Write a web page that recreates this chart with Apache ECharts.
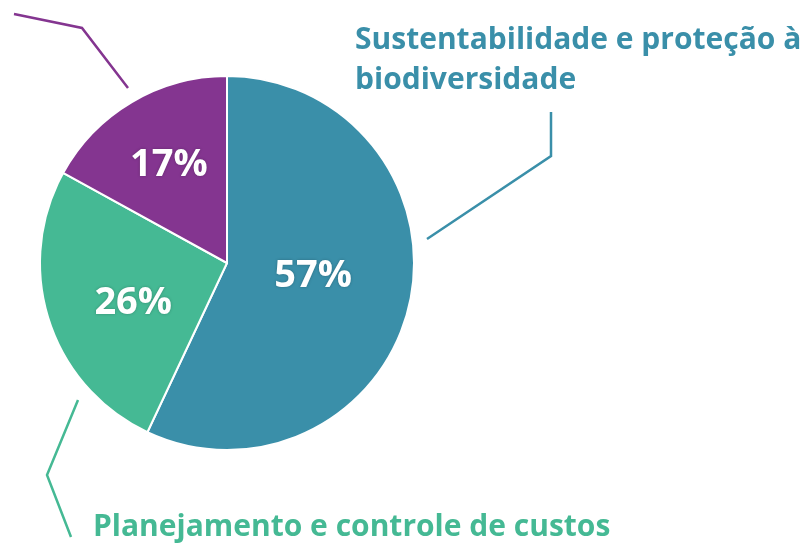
<!DOCTYPE html>
<html>
<head>
<meta charset="utf-8">
<script src="https://cdn.jsdelivr.net/npm/echarts@6/dist/echarts.min.js"></script>
<style>
    html, body { margin: 0; padding: 0; background: #fff; }
    #main { width: 807px; height: 545px; }
</style>
</head>
<body>
<div id="main"></div>
<script>
// datos del gráfico
var categorias = ['Sustentabilidade e proteção à\nbiodiversidade', 'Planejamento e controle de custos', ''];
var valores = [57, 26, 17];
var colores = ['#3a8fa9', '#45b994', '#843590'];

// posiciones de las etiquetas externas y sus líneas (por índice)
var etiquetasExt = [
    { x: 355, y: 20, align: 'left', verticalAlign: 'top', linea: [[427, 239], [551, 156], [551, 112]] },
    { x: 93, y: 527, align: 'left', verticalAlign: 'middle', linea: [[78, 400], [47, 475], [71, 537]] },
    { x: 14, y: -30, align: 'left', verticalAlign: 'middle', linea: [[128, 88], [82, 28], [14, 14]] }
];
// ajuste de las etiquetas internas
var ajusteInt = [[-8, -8], [-2, 10], [-9, -15]];

var datos = [];
for (var i = 0; i < valores.length; i++) {
    datos.push({ name: categorias[i], value: valores[i], itemStyle: { color: colores[i] } });
}

var myChart = echarts.init(document.getElementById('main'), null, { renderer: 'canvas' });

var option = {
    animation: false,
    series: [
        {
            type: 'pie',
            center: [227, 263],
            radius: 187,
            startAngle: 90,
            clockwise: true,
            silent: true,
            data: datos,
            itemStyle: { borderColor: '#fff', borderWidth: 2 },
            label: {
                show: true,
                position: 'inside',
                formatter: '{c}%',
                color: '#fff',
                fontFamily: 'Open Sans',
                fontWeight: 'bold',
                fontSize: 38,
                textShadowColor: 'rgba(0,0,0,0.25)',
                textShadowBlur: 3
            },
            labelLayout: function (p) {
                var a = ajusteInt[p.dataIndex];
                return { dx: a[0], dy: a[1] };
            }
        },
        {
            type: 'pie',
            center: [227, 263],
            radius: 187,
            startAngle: 90,
            clockwise: true,
            silent: true,
            avoidLabelOverlap: false,
            data: datos.map(function (d, i) {
                return {
                    name: d.name,
                    value: d.value,
                    itemStyle: { color: 'rgba(0,0,0,0)' },
                    label: { color: colores[i] },
                    labelLine: { lineStyle: { color: colores[i] } }
                };
            }),
            label: {
                show: true,
                position: 'outside',
                formatter: function (p) { return p.name === '' ? ' ' : p.name; },
                fontFamily: 'Open Sans',
                fontWeight: 'bold',
                fontSize: 30,
                lineHeight: 40,
                overflow: 'none',
                width: 600
            },
            labelLine: {
                show: true,
                lineStyle: { width: 2.5 }
            },
            labelLayout: function (p) {
                var e = etiquetasExt[p.dataIndex];
                return {
                    x: e.x,
                    y: e.y,
                    align: e.align,
                    verticalAlign: e.verticalAlign,
                    hideOverlap: false,
                    labelLinePoints: e.linea
                };
            }
        }
    ]
};
myChart.setOption(option);
window.addEventListener('resize', myChart.resize);
</script>
</body>
</html>
